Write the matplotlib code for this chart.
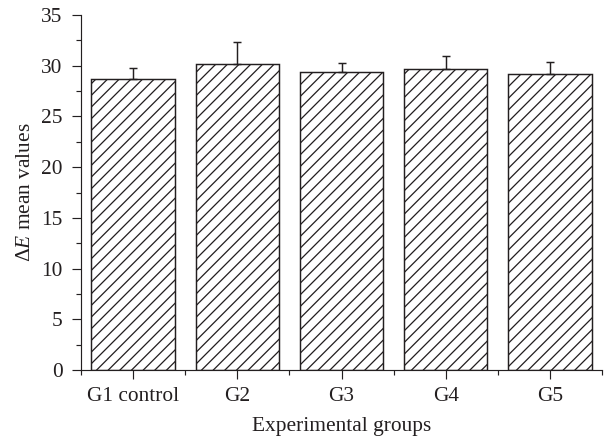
"""Delta E mean values per experimental group, hatched bars with upward error bars."""

import matplotlib

matplotlib.use("Agg")
import matplotlib.pyplot as plt
import numpy as np

groups = ["G1 control", "G2", "G3", "G4", "G5"]
mean_values = [28.7, 30.2, 29.4, 29.7, 29.2]
error_upper = [1.1, 2.1, 0.9, 1.3, 1.2]
y_ticks = [0, 5, 10, 15, 20, 25, 30, 35]

plt.rcParams["font.family"] = ["Liberation Serif", "DejaVu Serif"]
plt.rcParams["mathtext.fontset"] = "custom"
plt.rcParams["mathtext.rm"] = "Liberation Serif"
plt.rcParams["mathtext.it"] = "Liberation Serif:italic"
plt.rcParams["hatch.linewidth"] = 0.65
plt.rcParams["hatch.color"] = "#231f20"

DPI = 140
INK = "#231f20"

fig = plt.figure(figsize=(606 / DPI, 440 / DPI), dpi=DPI)
ax = fig.add_axes([0.1337, 0.1591, 0.8597, 0.8068])

x = np.arange(len(groups))
ax.bar(x, mean_values, width=0.8, color="white", edgecolor=INK, linewidth=0.75, hatch="////", zorder=2)
ax.errorbar(x, mean_values, yerr=[np.zeros(len(groups)), error_upper], fmt="none",
            ecolor=INK, elinewidth=0.75, capsize=1.9, capthick=0.75, zorder=3)

ax.set_xlim(-0.5, len(groups) - 0.5)
ax.set_ylim(0, 35)
ax.set_yticks(y_ticks)
ax.set_yticks(np.arange(2.5, 35, 5), minor=True)
ax.set_xticks(x)
ax.set_xticklabels(groups)
ax.set_xticks(np.arange(-0.5, len(groups), 1.0), minor=True)

for side in ("top", "right"):
    ax.spines[side].set_visible(False)
for side in ("left", "bottom"):
    ax.spines[side].set_linewidth(0.6)
    ax.spines[side].set_color(INK)

ax.tick_params(axis="both", which="major", length=4.5, width=0.6, color=INK,
               labelsize=11, labelcolor=INK)
ax.tick_params(axis="both", which="minor", length=2.5, width=0.6, color=INK)
ax.tick_params(axis="y", which="major", pad=5)
ax.tick_params(axis="x", which="major", pad=4)

ax.set_xlabel("Experimental groups", fontsize=11, color=INK, labelpad=6)
ax.set_ylabel(r"$\Delta E$ mean values", fontsize=11, color=INK, labelpad=3)

fig.savefig("out.png", dpi=DPI)
